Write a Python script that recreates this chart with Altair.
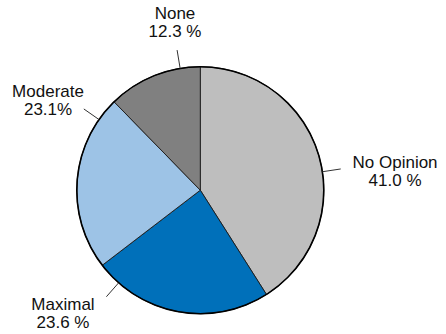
import math
import altair as alt
import pandas as pd

# Survey shares (percent), drawn clockwise from 12 o'clock
categories = ["No Opinion", "Maximal", "Moderate", "None"]
values = [41.0, 23.6, 23.1, 12.3]
pct_sep = [" ", " ", "", " "]
colors = ["#bebebe", "#0070ba", "#9dc3e6", "#808080"]

# Label layout in units of the pie radius (x right, y up from the centre);
# y is the centre of a label's first line
leader_angle = [81.4, 221.4, 304.9, 350.6]   # degrees clockwise from top
leader_r = [1.0, 1.15]
label_x = [1.577, -1.112, -1.233, -0.205]
label_y = [0.220, -0.930, 0.795, 1.427]

R = 123.5
SIZE = 2 * R
FONT = "Liberation Sans"

slices = pd.DataFrame({
    "category": categories,
    "value": values,
    "order": list(range(len(categories))),
})

leader_rows = []
for cat, ang in zip(categories, leader_angle):
    a = math.radians(ang)
    for k, r in enumerate(leader_r):
        leader_rows.append({"category": cat, "end": k,
                            "x": r * math.sin(a), "y": r * math.cos(a)})
leaders = pd.DataFrame(leader_rows)

labels = pd.DataFrame({
    "category": categories,
    "x": label_x,
    "y": label_y,
    "text": [f"{c}\n{v:.1f}{s}%" for c, v, s in zip(categories, values, pct_sep)],
})

xs = alt.Scale(domain=[-1, 1], nice=False, zero=False)
ys = alt.Scale(domain=[-1, 1], nice=False, zero=False)

pie = alt.Chart(slices).mark_arc(
    radius=R, stroke="#1a1a1a", strokeWidth=0.9
).encode(
    theta=alt.Theta("value:Q", stack=True),
    order=alt.Order("order:Q"),
    color=alt.Color("category:N", scale=alt.Scale(domain=categories, range=colors), legend=None),
)

rim = alt.Chart(pd.DataFrame({"k": [0]})).mark_arc(
    theta=0, theta2=2 * math.pi, radius=R, fill="transparent",
    stroke="#000000", strokeWidth=1.6
).encode(opacity=alt.value(1))

lines = alt.Chart(leaders).mark_line(color="#333333", strokeWidth=1).encode(
    x=alt.X("x:Q", scale=xs, axis=None),
    y=alt.Y("y:Q", scale=ys, axis=None),
    detail="category:N",
    order="end:Q",
)

text = alt.Chart(labels).mark_text(
    font=FONT, fontSize=17, lineHeight=18, align="center", baseline="middle",
    lineBreak="\n", color="#111111"
).encode(
    x=alt.X("x:Q", scale=xs, axis=None),
    y=alt.Y("y:Q", scale=ys, axis=None),
    text="text:N",
)

chart = alt.layer(pie, rim, lines, text).properties(
    width=SIZE, height=SIZE,
    background="white",
    autosize=alt.AutoSizeParams(type="none"),
    padding={"left": 76.8, "top": 66.7, "right": 446 - 76.8 - SIZE, "bottom": 334 - 66.7 - SIZE},
).configure_view(stroke=None)

chart.save("out.html", embed_options={"renderer": "svg", "actions": False})
